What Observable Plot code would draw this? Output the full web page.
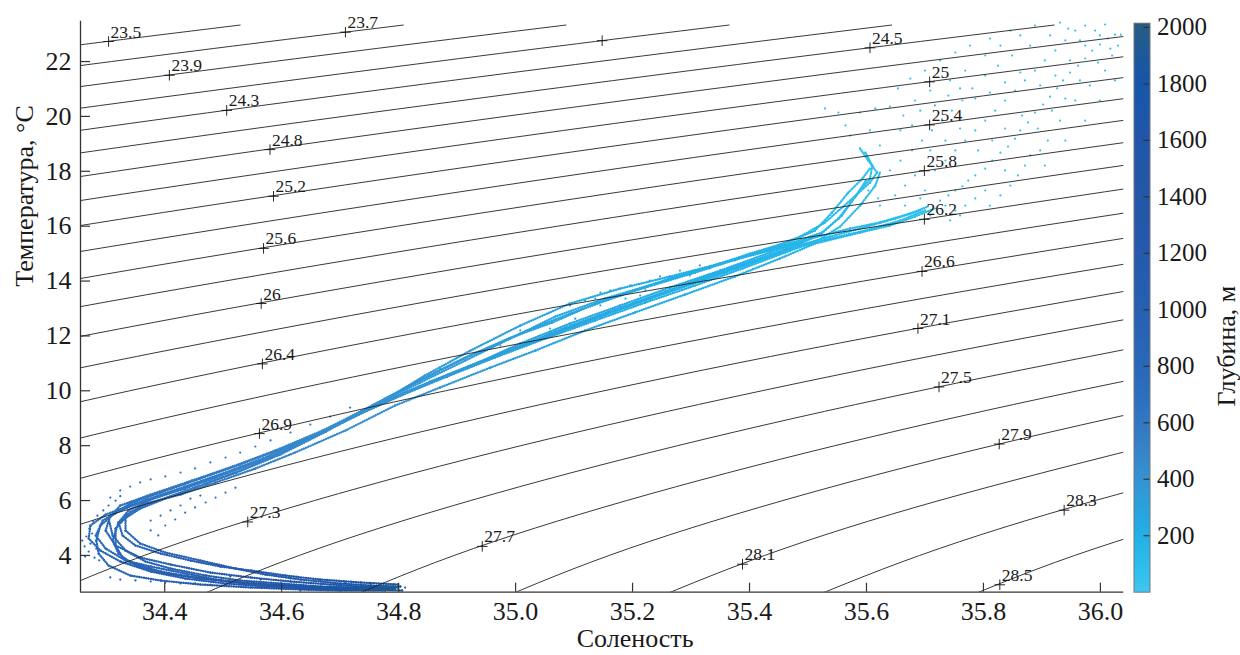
<!DOCTYPE html>
<html><head><meta charset="utf-8">
<script src="https://cdn.jsdelivr.net/npm/d3@7"></script>
<script src="https://cdn.jsdelivr.net/npm/@observablehq/plot@0.6"></script>
<style>
html,body{margin:0;padding:0;background:#fff;}
#wrap{position:relative;width:1240px;height:655px;overflow:hidden;}
#wrap svg{position:absolute;top:0;left:0;}
</style></head><body><div id="wrap"></div>
<script>
const _ = null;
// axis ticks
const xTicks = [34.4,34.6,34.8,35.0,35.2,35.4,35.6,35.8,36.0];
const yTicks = [4,6,8,10,12,14,16,18,20,22];
const cbTicks = [200,400,600,800,1000,1200,1400,1600,1800,2000];
// colour bar (depth, m)
const depthStops = [0,100,200,300,400,500,600,700,800,1000,1200,1400,1600,1800,1900,2000];
const colorStops = ["#3ec6ef","#2cbdec","#22b0e7","#2aa2dd","#3592d2","#3683c8","#3178c2","#2c6fbd","#2968b9","#2760b1","#2459ab","#2357a8","#2056a8","#1656a9","#1d5899","#275b87"];

// isopycnals: salinity read at these temperatures
const isoT = [2,4,6,8,10,12,14,16,18,20,22,23.33];
const isoS = [
 [_,_,_,_,_,_,_,_,_,33.322,34.031,34.529],
 [_,_,_,_,_,_,_,_,_,33.599,34.309,34.808],
 [_,_,_,_,_,_,_,_,33.214,33.875,34.586,35.086],
 [_,_,_,_,_,_,_,_,33.489,34.152,34.864,35.365],
 [_,_,_,_,_,_,_,_,33.765,34.428,35.142,35.643],
 [_,_,_,_,_,_,_,33.427,34.040,34.705,35.419,35.921],
 [_,_,_,_,_,_,_,33.701,34.316,34.982,35.697,36.200],
 [_,_,_,_,_,_,33.412,33.975,34.591,35.258,35.975,36.478],
 [_,_,_,_,_,_,33.685,34.249,34.867,35.535,36.252,_],
 [_,_,_,_,_,33.445,33.958,34.524,35.142,35.811,36.530,_],
 [_,_,_,_,_,33.717,34.231,34.798,35.418,36.088,_,_],
 [_,_,_,_,33.530,33.989,34.503,35.072,35.693,36.365,_,_],
 [_,_,_,_,33.800,34.260,34.776,35.346,35.969,36.641,_,_],
 [_,_,_,33.666,34.070,34.532,35.049,35.621,36.244,_,_,_],
 [_,_,_,33.934,34.340,34.803,35.322,35.895,36.519,_,_,_],
 [_,_,33.855,34.203,34.610,35.075,35.595,36.169,_,_,_,_],
 [_,33.835,34.122,34.472,34.880,35.347,35.868,36.443,_,_,_,_],
 [33.875,34.100,34.389,34.740,35.151,35.618,36.141,_,_,_,_,_],
 [34.138,34.365,34.656,35.009,35.421,35.890,36.414,_,_,_,_,_],
 [34.401,34.630,34.923,35.277,35.691,36.161,_,_,_,_,_,_],
 [34.665,34.895,35.190,35.546,35.961,36.433,_,_,_,_,_,_],
 [34.928,35.160,35.457,35.815,36.231,_,_,_,_,_,_,_],
 [35.191,35.426,35.724,36.083,_,_,_,_,_,_,_,_],
 [35.454,35.691,35.991,36.352,_,_,_,_,_,_,_,_],
 [35.718,35.956,36.258,_,_,_,_,_,_,_,_,_]
];
const isoLabelText = ["23.5","23.7","23.9","","24.3","24.5","24.8","25","25.2","25.4","25.6","25.8","26","26.2","26.4","26.6","26.9","27.1","27.3","27.5","27.7","27.9","28.1","28.3","28.5"];
const isoLabelS = [34.304,34.709,34.408,35.148,34.506,35.606,34.580,35.708,34.586,35.708,34.569,35.699,34.565,35.699,34.567,35.695,34.562,35.688,34.542,35.724,34.943,35.827,35.388,35.938,35.828];
const isoLabelT = [22.73,23.07,21.50,22.76,20.22,22.50,18.79,21.26,17.09,19.69,15.19,18.02,13.18,16.25,10.98,14.35,8.44,12.27,5.22,10.14,4.33,8.06,3.68,5.65,2.93];

// profiles: [salinity, temperature, depth]
const prof1 = [[34.799,2.831,2000],[34.735,2.867,1800],[34.683,2.940,1600],[34.615,3.049,1400],[34.547,3.195,1200],[34.478,3.377,1100],[34.410,3.669,1000],[34.358,3.924,900],[34.316,4.362,850],[34.299,4.908,800],[34.307,5.454,750],[34.341,5.891,700],[34.393,6.292,650],[34.461,6.803,600],[34.529,7.313,550],[34.598,7.860,500],[34.683,8.625,450],[34.769,9.573,400],[34.854,10.338,370],[34.940,11.067,340],[35.008,11.723,310],[35.093,12.452,280],[35.179,13.108,250],[35.264,13.764,220],[35.350,14.383,200],[35.435,15.039,180],[35.504,15.549,160],[35.572,15.914,140],[35.623,16.133,120],[35.675,16.461,100],[35.705,16.716,80]];
const prof2 = [[34.789,2.758,2000],[34.717,2.794,1800],[34.649,2.867,1600],[34.581,2.940,1400],[34.512,3.049,1200],[34.452,3.195,1100],[34.393,3.414,1000],[34.341,3.742,900],[34.321,4.070,850],[34.311,4.543,800],[34.321,5.199,750],[34.358,5.709,700],[34.410,6.146,650],[34.470,6.620,600],[34.538,7.167,550],[34.615,7.897,500],[34.692,8.735,450],[34.777,9.719,400],[34.854,10.557,370],[34.923,11.286,340],[35.008,12.087,310],[35.093,12.816,280],[35.179,13.472,250],[35.264,14.092,220],[35.350,14.639,200],[35.435,15.185,180],[35.487,15.622,160],[35.529,16.133,140],[35.572,16.934,120],[35.606,17.591,100],[35.618,17.955,85],[35.603,18.392,70],[35.589,18.830,55]];
const prof3 = [[34.777,2.722,2000],[34.700,2.722,1800],[34.632,2.758,1600],[34.547,2.831,1400],[34.461,2.940,1200],[34.393,3.086,1100],[34.341,3.268,1000],[34.304,3.633,900],[34.287,4.070,850],[34.283,4.543,800],[34.290,5.090,750],[34.316,5.563,700],[34.367,6.001,650],[34.435,6.511,600],[34.504,7.022,550],[34.577,7.605,500],[34.663,8.407,450],[34.752,9.354,400],[34.837,10.156,370],[34.923,10.921,340],[35.000,11.577,310],[35.085,12.306,280],[35.170,12.962,250],[35.256,13.618,220],[35.341,14.274,200],[35.427,14.894,180],[35.487,15.367,160],[35.521,15.695,140],[35.552,16.278,120],[35.581,17.080,100],[35.606,17.736,85],[35.610,18.210,70],[35.598,18.684,55]];
const prof4 = [[34.803,2.867,2000],[34.752,2.904,1800],[34.700,2.976,1600],[34.632,3.122,1400],[34.572,3.305,1200],[34.521,3.523,1100],[34.461,3.815,1000],[34.401,4.106,900],[34.358,4.434,850],[34.333,4.908,800],[34.333,5.454,750],[34.367,5.891,700],[34.427,6.219,650],[34.487,6.657,600],[34.555,7.167,550],[34.623,7.751,500],[34.709,8.553,450],[34.794,9.464,400],[34.871,10.120,370],[34.957,10.848,340],[35.034,11.468,310],[35.119,12.197,280],[35.204,12.853,250],[35.290,13.509,220],[35.375,14.165,200],[35.452,14.821,180],[35.512,15.367,160],[35.589,15.768,140],[35.640,16.023,120],[35.683,16.351,100],[35.717,16.643,80]];
const prof5 = [[34.794,2.794,2000],[34.726,2.831,1800],[34.666,2.867,1600],[34.598,2.976,1400],[34.529,3.086,1200],[34.470,3.268,1100],[34.410,3.523,1000],[34.367,3.779,900],[34.333,4.179,850],[34.311,4.726,800],[34.304,5.344,750],[34.324,5.818,700],[34.376,6.219,650],[34.447,6.730,600],[34.516,7.240,550],[34.589,7.824,500],[34.670,8.553,450],[34.755,9.464,400],[34.837,10.302,370],[34.914,11.103,340],[34.991,11.905,310],[35.068,12.707,280],[35.153,13.363,250],[35.239,13.910,220],[35.324,14.456,200],[35.401,15.003,180],[35.469,15.440,160],[35.512,15.841,140],[35.541,16.497,120],[35.569,17.226,100],[35.593,17.736,85],[35.606,18.101,70]];
const prof6 = [[34.806,2.722,2000],[34.743,2.758,1800],[34.675,2.794,1600],[34.606,2.867,1400],[34.538,2.976,1200],[34.487,3.122,1100],[34.435,3.341,1000],[34.376,3.596,900],[34.333,3.815,850],[34.299,4.252,800],[34.282,4.726,750],[34.294,5.272,700],[34.333,5.745,650],[34.401,6.256,600],[34.478,6.766,550],[34.555,7.386,500],[34.641,8.188,450],[34.735,9.172,400],[34.820,9.974,370],[34.905,10.739,340],[34.982,11.395,310],[35.068,12.124,280],[35.153,12.780,250],[35.239,13.436,220],[35.324,14.092,200],[35.410,14.748,180],[35.478,15.258,160],[35.538,15.622,140],[35.589,15.914,120],[35.649,16.278,100],[35.692,16.570,80]];
const prof7 = [[34.799,2.940,2000],[34.735,3.013,1800],[34.666,3.122,1600],[34.606,3.268,1400],[34.547,3.450,1200],[34.495,3.596,1100],[34.444,3.815,1000],[34.393,4.070,900],[34.350,4.362,850],[34.328,4.726,800],[34.321,5.199,750],[34.338,5.637,700],[34.376,6.038,650],[34.435,6.439,600],[34.499,6.949,550],[34.567,7.496,500],[34.641,8.188,450],[34.726,9.099,400],[34.811,9.937,370],[34.897,10.666,340],[34.974,11.322,310],[35.059,12.015,280],[35.145,12.707,250],[35.230,13.363,220],[35.315,13.983,200],[35.398,14.602,180],[35.469,15.149,160],[35.538,15.549,140],[35.598,15.841,120],[35.658,16.206,100],[35.700,16.570,80]];
const prof8 = [[34.786,2.758,2000],[34.709,2.758,1800],[34.641,2.794,1600],[34.572,2.867,1400],[34.504,2.976,1200],[34.435,3.159,1100],[34.376,3.414,1000],[34.324,3.779,900],[34.290,4.179,850],[34.270,4.617,800],[34.273,5.090,750],[34.299,5.491,700],[34.350,5.891,650],[34.418,6.366,600],[34.487,6.876,550],[34.560,7.459,500],[34.632,8.079,450],[34.717,8.990,400],[34.803,9.828,370],[34.883,10.520,340],[34.965,11.213,310],[35.051,11.905,280],[35.136,12.561,250],[35.222,13.217,220],[35.307,13.837,200],[35.388,14.456,180],[35.461,15.039,160],[35.517,15.477,140],[35.555,15.987,120],[35.589,16.752,100],[35.615,17.481,85],[35.623,17.955,70]];
const prof9 = [[34.791,2.794,2000],[34.726,2.794,1800],[34.663,2.831,1600],[34.594,2.904,1400],[34.526,3.013,1200],[34.461,3.159,1100],[34.401,3.341,1000],[34.355,3.596,900],[34.328,3.924,850],[34.316,4.362,800],[34.316,4.981,750],[34.341,5.564,700],[34.389,6.001,650],[34.452,6.475,600],[34.523,7.022,550],[34.598,7.678,500],[34.676,8.516,450],[34.762,9.536,400],[34.841,10.448,370],[34.914,11.213,340],[34.988,11.905,310],[35.063,12.489,280],[35.141,13.217,250],[35.222,13.764,220],[35.307,14.310,200],[35.393,14.894,180],[35.469,15.367,160],[35.524,15.768,140],[35.558,16.388,120],[35.582,17.117,100],[35.599,17.663,85]];
const prof10 = [[34.769,9.573,400],[34.845,10.560,370],[34.923,11.468,340],[35.008,12.379,310],[35.093,13.181,280],[35.179,13.727,250],[35.264,14.165,220],[35.350,14.639,200],[35.435,15.112,180],[35.495,15.477,160]];

// scattered samples: [salinity, temperature]
const noseDots = [[34.259,4.54],[34.263,4.33],[34.266,4.69],[34.270,4.14],[34.273,4.43],[34.276,4.80],[34.280,3.92],[34.283,4.25],[34.264,3.96],[34.271,4.98],[34.288,3.82],[34.278,5.24],[34.285,5.45],[34.295,5.64],[34.304,5.82],[34.316,6.00],[34.324,6.16]];
const noseDepth = 850;
const lowStrand = [[34.307,3.20],[34.324,3.12],[34.350,3.09],[34.376,3.05],[34.401,3.01],[34.427,2.98],[34.452,2.98],[34.478,2.94],[34.504,2.94]];
const lowDepth = 1100;
const belowBand = [[34.376,5.27],[34.393,5.45],[34.410,5.64],[34.427,5.82],[34.444,6.07],[34.461,6.18],[34.401,5.09],[34.418,5.31],[34.435,5.56],[34.452,5.75],[34.470,5.93],[34.487,6.11],[34.504,6.29],[34.521,6.47],[34.376,4.91],[34.389,4.73]];
const belowDepth = 700;
const aboveBand = [[34.307,6.11],[34.324,6.37],[34.341,6.51],[34.358,6.66],[34.376,6.77],[34.401,6.88],[34.427,7.02],[34.452,7.17],[34.478,7.39],[34.504,7.57],[34.529,7.75],[34.555,7.97],[34.581,8.19],[34.615,8.48],[34.649,8.77],[34.683,9.06],[34.717,9.39]];
const aboveDepth = 620;
const bottomDots = [[34.632,2.72],[34.683,2.76],[34.735,2.79],[34.769,2.83],[34.811,2.83],[34.794,2.94],[34.752,2.98],[34.709,3.01],[34.666,3.09],[34.615,3.16],[34.564,3.12],[34.512,3.23]];
const bottomDepth = 1700;
const midSpread = [[35.008,12.20],[35.051,12.49],[35.093,13.11],[35.136,13.36],[35.162,13.66],[35.196,13.84],[35.230,14.02],[35.247,14.17],[35.281,14.38],[35.315,14.57],[35.059,12.27],[35.102,12.63],[35.145,13.11],[35.188,13.36],[35.222,13.66],[35.298,14.20],[35.332,14.46],[35.375,14.75],[35.418,15.04],[34.940,11.40],[34.974,11.65],[34.897,11.03],[34.871,10.81],[35.119,13.29],[35.213,13.47],[35.145,13.58]];
const midDepth = 260;
const upperCloud = [[35.726,16.93],[35.740,17.12],[35.752,17.30],[35.764,17.45],[35.774,17.66],[35.786,17.85],[35.803,18.10],[35.815,18.39],[35.829,18.68],[35.842,18.90],[35.854,19.19],[35.863,19.49],[35.876,19.78],[35.888,20.14],[35.902,20.43],[35.914,20.72],[35.926,21.02],[35.936,21.31],[35.948,21.60],[35.962,21.85],[35.974,22.11],[35.986,22.40],[35.999,22.62],[36.013,22.84],[36.025,22.98],[36.035,22.98],
 [35.829,17.12],[35.846,17.48],[35.859,17.85],[35.871,18.21],[35.897,18.76],[35.910,19.12],[35.931,19.85],[35.957,20.58],[35.982,21.13],[36.008,21.67],[36.020,22.22],[36.030,22.58],[35.991,23.13],[36.008,23.35],[35.965,22.77],
 [35.623,16.75],[35.649,17.12],[35.666,17.48],[35.683,17.85],[35.700,17.30],[35.717,18.03],[35.735,18.39],[35.752,18.76],[35.769,19.12],[35.786,19.49],[35.803,19.85],[35.820,20.21],[35.837,20.58],[35.854,20.94],[35.871,21.31],[35.888,21.67],[35.905,22.04],[35.923,22.40],[35.940,22.77],[35.957,23.13],[35.974,23.31],[35.658,18.39],[35.678,18.76],[35.695,19.12],[35.712,19.49],[35.729,19.85],[35.746,20.21],[35.764,20.58],[35.781,21.02],[35.803,21.49],[35.825,21.85],[35.849,22.22],[35.880,22.58],[35.914,22.95],[35.945,23.20],
 [35.572,19.30],[35.564,19.67],[35.552,20.14],[35.529,20.29],[35.589,20.14],[35.615,20.29],[35.640,20.36],[35.663,20.03],[35.678,19.67],[35.606,19.49],[35.623,18.94],[35.640,18.03],[35.658,19.49],[35.683,20.58],[35.709,20.94],[35.743,21.31],[35.769,21.67],[35.803,22.22],[35.829,22.58],[35.863,22.95],[35.603,17.30],[35.620,17.01],
 [35.735,16.75],[35.752,16.57],[35.769,16.75],[35.786,17.01],[35.803,17.30],[35.760,16.39],[35.743,16.21],[35.709,16.39],
 [35.654,21.02],[35.675,21.38],[35.700,21.67],[35.726,22.04],[35.752,22.33],[35.777,22.58],[35.811,22.84],[35.846,23.13],[35.888,23.31],[35.931,23.42],
 [35.692,20.21],[35.717,20.40],[35.740,20.76],[35.760,21.02],[35.786,20.65],[35.811,20.87],[35.837,21.24],[35.863,21.60],[35.897,21.13],[35.923,21.49],[35.948,22.04],[35.974,22.58],[35.999,22.95],
 [35.709,18.76],[35.735,19.12],[35.760,19.56],[35.791,18.76],[35.815,19.12],[35.837,19.56],[35.866,20.03],[35.893,19.56],[35.917,20.21],[35.940,20.65],[35.965,21.31],[35.996,21.96],[36.017,22.47],
 [35.666,16.75],[35.692,17.01],[35.811,16.75],[35.837,18.03],[35.880,18.58],[35.905,18.21],[35.940,19.12],[35.974,19.85],[35.999,20.58],[36.025,21.31]];
const upperDepth = 40;

// ---------- build tables ----------
const W = 1240, H = 655, mL = 80, mR = 116.7, mT = 20.7, mB = 63.3;
const frameW = W - mL - mR, frameH = H - mT - mB;
const FONT = '"Liberation Serif","Times New Roman",serif';
const colorOpts = {type: "linear", domain: depthStops, range: colorStops, clamp: true};

const isoRows = [];
isoS.forEach((row, k) => row.forEach((s, i) => { if (s !== null) isoRows.push({k, S: s, T: isoT[i]}); }));
const isoLab = isoLabelText.map((t, i) => ({text: t, S: isoLabelS[i], T: isoLabelT[i]}));

const profiles = [prof1, prof2, prof3, prof4, prof5, prof6, prof7, prof8, prof9, prof10];
const segs = [];
const dots = [];
profiles.forEach(p => {
  p.forEach(q => dots.push({S: q[0], T: q[1], d: q[2]}));
  for (let i = 0; i < p.length - 1; i++) segs.push({x1: p[i][0], y1: p[i][1], x2: p[i+1][0], y2: p[i+1][1], d: (p[i][2] + p[i+1][2]) / 2});
});
[[noseDots, noseDepth], [lowStrand, lowDepth], [belowBand, belowDepth], [aboveBand, aboveDepth], [bottomDots, bottomDepth], [midSpread, midDepth], [upperCloud, upperDepth]]
  .forEach(([arr, d]) => arr.forEach(q => dots.push({S: q[0], T: q[1], d})));

const main = Plot.plot({
  width: W, height: H, marginLeft: mL, marginRight: mR, marginTop: mT, marginBottom: mB,
  style: {fontFamily: FONT, fontSize: "26px", color: "#1a1a1a", background: "transparent", overflow: "visible"},
  x: {domain: [34.256, 36.04], axis: null},
  y: {domain: [2.66, 23.47], axis: null},
  color: colorOpts,
  marks: [
    Plot.link(segs, {x1: "x1", y1: "y1", x2: "x2", y2: "y2", stroke: "d", strokeWidth: 1, strokeOpacity: 0.75, clip: true}),
    Plot.link(segs, {x1: "x1", y1: "y1", x2: "x2", y2: "y2", stroke: "d", strokeWidth: 2.4, strokeDasharray: "0.1,2.3", strokeLinecap: "round", clip: true}),
    Plot.dot(dots, {x: "S", y: "T", fill: "d", r: 1.1, clip: true}),
    Plot.line(isoRows, {x: "S", y: "T", z: "k", curve: "natural", stroke: "#222", strokeWidth: 0.9, clip: true}),
    Plot.dot(isoLab, {x: "S", y: "T", symbol: "plus", r: 3.5, stroke: "#111", strokeWidth: 0.9}),
    Plot.text(isoLab.filter(d => d.text), {x: "S", y: "T", text: "text", dx: 2, dy: -4, textAnchor: "start", lineAnchor: "bottom", fontSize: 17.5, fill: "#1a1a1a"}),
    Plot.ruleX([34.256], {stroke: "#333", strokeWidth: 1.3}),
    Plot.ruleY([2.66], {stroke: "#333", strokeWidth: 1.3}),
    Plot.tickX(xTicks, {x: d => d, insetTop: frameH - 9, stroke: "#333", strokeWidth: 1.2}),
    Plot.tickY(yTicks, {y: d => d, insetRight: frameW - 10, stroke: "#333", strokeWidth: 1.2}),
    Plot.axisX(xTicks, {tickSize: 0, tickPadding: 9, tickFormat: d3.format(".1f"), label: null}),
    Plot.axisY(yTicks, {tickSize: 0, tickPadding: 9, label: null}),
    Plot.text(["Соленость"], {frameAnchor: "bottom", dx: 33, dy: 55, lineAnchor: "bottom", fontSize: 26}),
    Plot.text(["Температура, °C"], {frameAnchor: "left", dx: -48, dy: -20, rotate: -90, lineAnchor: "bottom", fontSize: 26}),
    Plot.text(["Глубина, м"], {frameAnchor: "right", dx: 111, dy: -21, rotate: -90, lineAnchor: "bottom", fontSize: 26})
  ]
});

const cbBins = d3.range(0, 2015, 5).map(a => ({a, b: a + 5, m: a + 2.5}));
const cb = Plot.plot({
  width: 107, height: H, marginLeft: 0.5, marginRight: 90.5, marginTop: 22.7, marginBottom: mB,
  style: {fontFamily: FONT, fontSize: "25px", color: "#1a1a1a", background: "transparent", overflow: "visible"},
  x: {domain: [0, 1], axis: null},
  y: {domain: [0, 2015], axis: null},
  color: colorOpts,
  marks: [
    Plot.rect(cbBins, {x1: 0, x2: 1, y1: "a", y2: "b", fill: "m", shapeRendering: "crispEdges"}),
    Plot.frame({stroke: "#777", strokeWidth: 1}),
    Plot.ruleY(cbTicks, {y: d => d, x1: 0.62, x2: 1, stroke: "#333", strokeWidth: 1.2}),
    Plot.text(cbTicks, {y: d => d, x: 1, text: d => String(d), dx: 7, textAnchor: "start", fontSize: 25})
  ]
});
cb.style.left = "1133px";
const wrap = document.getElementById("wrap");
wrap.appendChild(main);
wrap.appendChild(cb);
</script>
</body></html>
